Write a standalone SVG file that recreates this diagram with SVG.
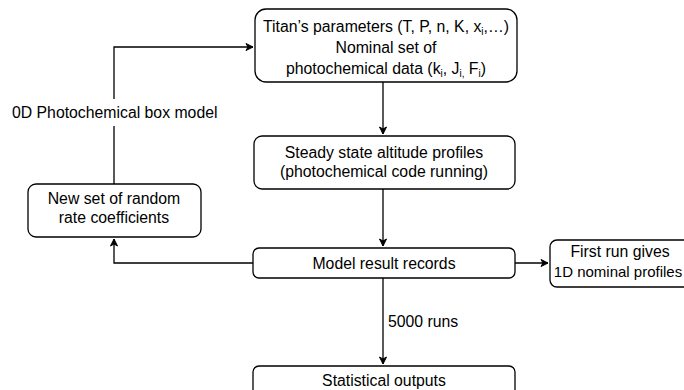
<svg xmlns="http://www.w3.org/2000/svg" width="684" height="390" viewBox="0 0 684 390">
<defs>
<marker id="arr" markerWidth="10" markerHeight="10" refX="8" refY="5" orient="auto" markerUnits="userSpaceOnUse">
<path d="M1,1.5 L8,5 L1,8.5 L3,5 Z" fill="#000" stroke="#000" stroke-width="1"/>
</marker>
<style>
.box{fill:#fff;stroke:#000;stroke-width:1.3}
.t{font-family:"Liberation Sans",Arial,Helvetica,sans-serif;font-size:15.8px;fill:#000;text-anchor:middle}
.tl{font-family:"Liberation Sans",Arial,Helvetica,sans-serif;font-size:15.8px;fill:#000}
.ln{fill:none;stroke:#000;stroke-width:1.3}
.sub{font-size:10px}
</style>
</defs>
<rect width="684" height="390" fill="#fff"/>
<g id="connectors">
<path class="ln" d="M383,82 L383,134" marker-end="url(#arr)"/>
<path class="ln" d="M383,189 L383,246" marker-end="url(#arr)"/>
<path class="ln" d="M383,278 L383,364" marker-end="url(#arr)"/>
<path class="ln" d="M515,263 L548,263" marker-end="url(#arr)"/>
<path class="ln" d="M253,263 L114,263 L114,239" marker-end="url(#arr)"/>
<path class="ln" d="M114,184 L114,47 L253,47" marker-end="url(#arr)"/>
<rect x="10" y="99" width="210" height="27" fill="#fff"/>
<text class="tl" x="12" y="118">0D Photochemical box model</text>
<text class="tl" x="388" y="327">5000 runs</text>
</g>
<g id="titan">
<rect class="box" x="255" y="9" width="262" height="73" rx="11"/>
<text class="t" x="386" y="32">Titan’s parameters (T, P, n, K, x<tspan class="sub" dy="3">i</tspan><tspan dy="-3">,…)</tspan></text>
<text class="t" x="386" y="53">Nominal set of</text>
<text class="t" x="386" y="74">photochemical data (k<tspan class="sub" dy="3">i</tspan><tspan dy="-3">, J</tspan><tspan class="sub" dy="3">i,</tspan><tspan dy="-3"> F</tspan><tspan class="sub" dy="3">i</tspan><tspan dy="-3">)</tspan></text>
</g>
<g id="steady">
<rect class="box" x="254" y="136" width="261" height="53" rx="8"/>
<text class="t" x="384" y="158">Steady state altitude profiles</text>
<text class="t" x="384" y="177">(photochemical code running)</text>
</g>
<g id="model">
<rect class="box" x="253" y="248" width="262" height="30" rx="6"/>
<text class="t" x="384" y="269">Model result records</text>
</g>
<g id="first">
<rect class="box" x="550" y="240" width="144" height="47" rx="7"/>
<text class="t" x="620" y="257">First run gives</text>
<text class="t" x="618" y="277" style="font-size:15px">1D nominal profiles</text>
</g>
<g id="newset">
<rect class="box" x="28" y="184" width="173" height="53" rx="8"/>
<text class="t" x="114" y="204">New set of random</text>
<text class="t" x="114" y="223">rate coefficients</text>
</g>
<g id="stat">
<rect class="box" x="253" y="366" width="262" height="40" rx="6"/>
<text class="t" x="384" y="386">Statistical outputs</text>
</g>
</svg>
